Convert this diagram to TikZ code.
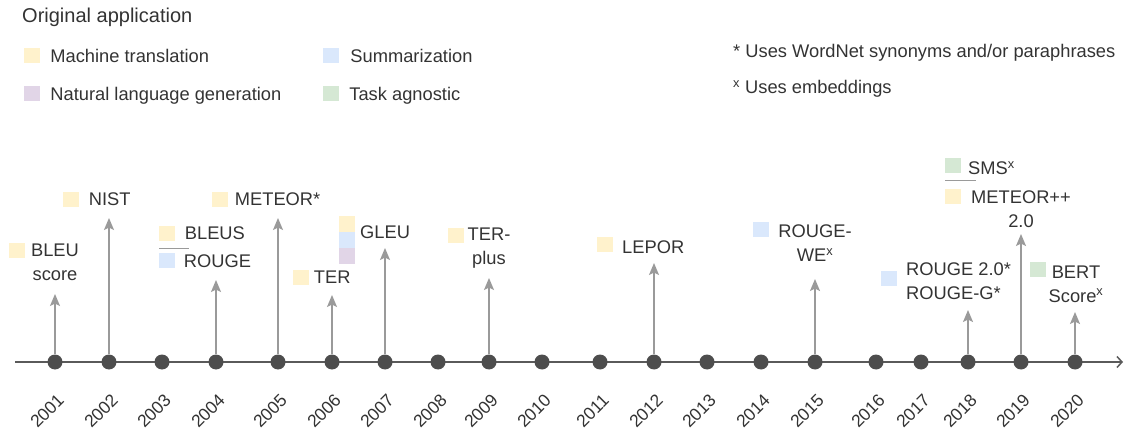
\documentclass[tikz,border=0pt]{standalone}
\usepackage{fontspec}
\setmainfont{Liberation Sans}
\usetikzlibrary{positioning,arrows.meta}
\definecolor{mtcol}{HTML}{FFF2CC}
\definecolor{sumcol}{HTML}{DAE8FC}
\definecolor{nlgcol}{HTML}{E1D5E7}
\definecolor{agcol}{HTML}{D5E8D4}
\definecolor{txtgray}{HTML}{333333}
\definecolor{dotgray}{HTML}{4D4D4D}
\definecolor{arrgray}{HTML}{9A9A9A}
\definecolor{axgray}{HTML}{5A5A5A}

\begin{document}
\begin{tikzpicture}[x=1pt,y=-1pt,
  every node/.style={font=\fontsize{18.3}{24}\selectfont,text=txtgray,inner sep=0pt},
  box/.style={fill=#1,minimum width=16pt,minimum height=15pt},
  lbl/.style={text depth=0pt},
  dot/.style={circle,fill=dotgray,minimum size=15pt},
  yrlbl/.style={rotate=45,anchor=east,font=\fontsize{17.5}{20}\selectfont},
  up/.style={draw=arrgray,line width=1.4pt,-{Stealth[length=12pt,width=10pt,inset=2.5pt]}},
  sep/.style={draw=arrgray,line width=1pt},
  axis/.style={draw=axgray,line width=1.5pt,-{Straight Barb[length=5pt,width=11pt]}}]
\useasboundingbox (0,0) rectangle (1124,430);

% legend
\node[lbl,anchor=west,font=\fontsize{20}{24}\selectfont] (title) at (22,15) {Original application};
\node[box=mtcol]  (k_mt)  at (32,55.5) {};
\node[lbl,right=10pt of k_mt]  (t_mt)  {Machine translation};
\node[box=nlgcol] (k_nlg) at (32,94) {};
\node[lbl,right=10pt of k_nlg] (t_nlg) {Natural language generation};
\node[box=sumcol] (k_sum) at (331,55.5) {};
\node[lbl,right=11pt of k_sum] (t_sum) {Summarization};
\node[box=agcol]  (k_ag)  at (331,94) {};
\node[lbl,right=10pt of k_ag]  (t_ag)  {Task agnostic};
\node[lbl,anchor=west] (n_wn)  at (733,51) {* Uses WordNet synonyms and/or paraphrases};
\node[lbl,anchor=west] (n_emb) at (733,87) {\textsuperscript{x} Uses embeddings};

% timeline
\coordinate (ax_start) at (15,362);
\coordinate (ax_end)   at (1123,362);
\draw[axis] (ax_start) -- (ax_end);
\foreach \yy/\xx in {2001/55,2002/109,2003/162,2004/216,2005/278,2006/332,2007/385,
    2008/438,2009/489,2010/542,2011/600,2012/654,2013/707,2014/761,2015/815,
    2016/876,2017/921,2018/968,2019/1021,2020/1075} {
  \node[dot] (y_\yy) at (\xx,362) {};
  \node[yrlbl] (l_\yy) at (\xx+6,397) {\yy};
}

% metrics
\node[box=mtcol] (s_bleu) at (17,250.5) {};
\node[align=center] (bleu) at (55,262) {BLEU\\score};
\node[box=mtcol] (s_nist) at (70.5,199.5) {};
\node[lbl,right=10pt of s_nist] (nist) {NIST};
\node[box=mtcol] (s_bleus) at (166.5,233.5) {};
\node[lbl,right=10pt of s_bleus] (bleus) {BLEUS};
\node[box=sumcol] (s_rouge) at (166.5,261) {};
\node[lbl,right=9pt of s_rouge] (rouge) {ROUGE};
\coordinate (c_bleus_a) at (159,249);
\coordinate (c_bleus_b) at (189,249);
\draw[sep] (c_bleus_a) -- (c_bleus_b);
\node[box=mtcol] (s_meteor) at (219.5,199.5) {};
\node[lbl,right=7pt of s_meteor] (meteor) {METEOR*};
\node[box=mtcol] (s_ter) at (300.5,277.5) {};
\node[lbl,right=5pt of s_ter] (ter) {TER};
\node[box=mtcol,minimum height=16pt] (s_gleu_a) at (347,224) {};
\node[box=sumcol,minimum height=16pt] (s_gleu_b) at (347,240) {};
\node[box=nlgcol,minimum height=16pt] (s_gleu_c) at (347,256) {};
\node[lbl,anchor=west] (gleu) at (360,232) {GLEU};
\node[box=mtcol] (s_terp) at (455.5,235.5) {};
\node[align=center] (terp) at (489,248) {TER-\\plus};
\node[box=mtcol] (s_lepor) at (605,244.5) {};
\node[lbl,anchor=west] (lepor) at (622,247) {LEPOR};
\node[box=sumcol] (s_rwe) at (761,230) {};
\node[align=center] (rwe) at (815,243) {ROUGE-\\WE\textsuperscript{x}};
\node[box=sumcol] (s_r2) at (889,278.5) {};
\node[align=left,anchor=west] (r2) at (906,281) {ROUGE 2.0*\\ROUGE-G*};
\node[box=agcol] (s_sms) at (953,165.5) {};
\node[lbl,anchor=west] (sms) at (968,168) {SMS\textsuperscript{x}};
\coordinate (c_sms_a) at (945,181);
\coordinate (c_sms_b) at (976,181);
\draw[sep] (c_sms_a) -- (c_sms_b);
\node[box=mtcol] (s_mpp) at (953,196.5) {};
\node[align=center] (mpp) at (1021,209) {METEOR++\\2.0};
\node[box=agcol] (s_bert) at (1037.5,269.5) {};
\node[align=center] (bert) at (1076,284) {BERT\\Score\textsuperscript{x}};

% arrow tips
\coordinate (a_2001) at (55,294);
\coordinate (a_2002) at (109,218);
\coordinate (a_2004) at (216,280);
\coordinate (a_2005) at (278,218);
\coordinate (a_2006) at (332,295);
\coordinate (a_2007) at (385,248);
\coordinate (a_2009) at (489,278);
\coordinate (a_2012) at (654,263);
\coordinate (a_2015) at (815,279);
\coordinate (a_2018) at (968,310);
\coordinate (a_2019) at (1021,234);
\coordinate (a_2020) at (1075,312);
\draw[up] (y_2001) -- (a_2001);
\draw[up] (y_2002) -- (a_2002);
\draw[up] (y_2004) -- (a_2004);
\draw[up] (y_2005) -- (a_2005);
\draw[up] (y_2006) -- (a_2006);
\draw[up] (y_2007) -- (a_2007);
\draw[up] (y_2009) -- (a_2009);
\draw[up] (y_2012) -- (a_2012);
\draw[up] (y_2015) -- (a_2015);
\draw[up] (y_2018) -- (a_2018);
\draw[up] (y_2019) -- (a_2019);
\draw[up] (y_2020) -- (a_2020);
\end{tikzpicture}
\end{document}
